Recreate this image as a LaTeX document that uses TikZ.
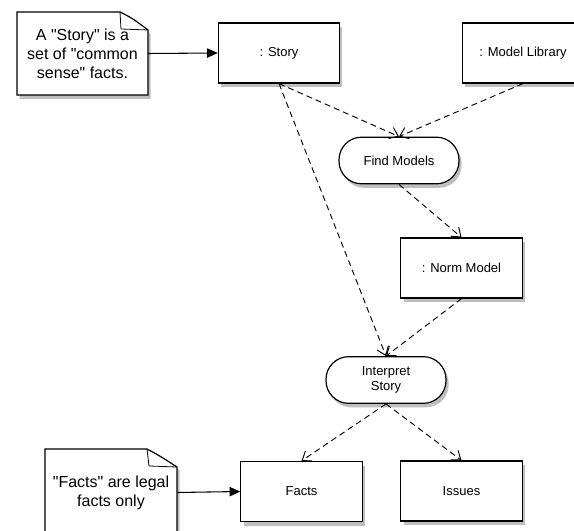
\documentclass[tikz,border=0pt]{standalone}
\usepackage{fontspec}
\setmainfont{Liberation Sans}
\usetikzlibrary{arrows.meta}
\usetikzlibrary{shadows}

\begin{document}
\begin{tikzpicture}[x=0.75pt,y=-0.75pt,
  shade/.style={drop shadow={shadow xshift=2pt,shadow yshift=-3pt,opacity=0.25,fill=black}},
  object/.style={rectangle,draw,line width=0.9pt,fill=white,shade,minimum width=91pt,minimum height=45pt,font=\fontsize{9.75}{11.5}\selectfont},
  activity/.style={rectangle,draw,line width=0.9pt,fill=white,shade,rounded corners=17pt,minimum width=90pt,minimum height=35pt,align=center,font=\fontsize{9.75}{11.5}\selectfont},
  comment/.style={rectangle,minimum width=98pt,minimum height=62pt,align=center,font=\fontsize{12}{14.25}\selectfont},
  flow/.style={-{Straight Barb[length=6pt,width=9pt]},line width=0.7pt,dash pattern=on 4.5pt off 3pt},
  link/.style={-{Triangle[length=8pt,width=7pt]},line width=0.8pt}]
\clip (0,0) rectangle (574,531);
\fill[white] (0,0) rectangle (574,531);
% notes
\path[draw,line width=0.9pt,fill=white,shade] (17,12) -- (120,12) .. controls (132,18) .. (148,30) -- (148,95) -- (17,95) -- cycle;
\draw[line width=0.6pt] (120,12) -- (121,29) -- (148,30);
\node (storynote) [comment] at (82.5,53.5) {A \textquotedbl Story\textquotedbl{} is a\\set of \textquotedbl common\\sense\textquotedbl{} facts.};
\path[draw,line width=0.9pt,fill=white,shade] (45,449) -- (147,449) .. controls (160,456) .. (177,467) -- (177,540) -- (45,540) -- cycle;
\draw[line width=0.6pt] (147,449) -- (149,466) -- (177,467);
\node (factsnote) [comment,minimum width=99pt,minimum height=65pt] at (111,492.5) {\textquotedbl Facts\textquotedbl{} are legal\\facts only};
% objects and activities
\node (story) [object] at (279,53) {: Story};
\node (library) [object] at (523,53) {: Model Library};
\node (find) [activity] at (399,160.5) {Find Models};
\node (norm) [object] at (461.5,268) {: Norm Model};
\node (interp) [activity] at (386,380) {Interpret\\Story};
\node (facts) [object] at (301.5,491.5) {Facts};
\node (issues) [object] at (461.5,491) {Issues};
% connectors
\draw [link] (storynote.east) -- (story.west);
\draw [link] (factsnote.east) -- (facts.west);
\draw [flow] (story.south) -- (find.north);
\draw [flow] (library.south) -- (find.north);
\draw [flow] (find.south) -- (norm.north);
\draw [flow] (norm.south) -- (interp.north);
\draw [flow] (story.south) -- (interp.north);
\draw [flow] (interp.south) -- (facts.north);
\draw [flow] (interp.south) -- (issues.north);
\end{tikzpicture}
\end{document}
